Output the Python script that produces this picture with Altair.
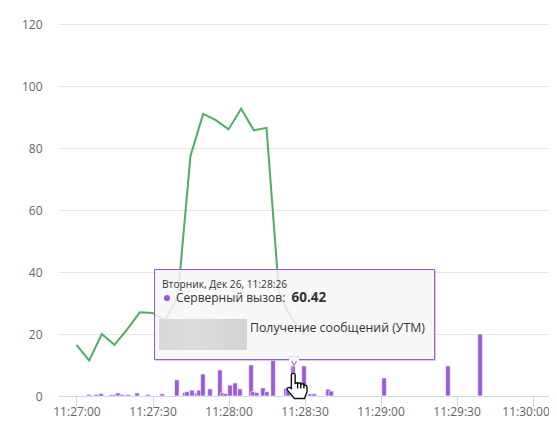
import altair as alt
import pandas as pd

START = pd.Timestamp("2023-12-26T11:27:00")
line_seconds = [0, 5, 10, 15, 20, 25, 30, 35, 40, 45, 50, 55, 60, 65, 70, 75, 80, 85, 90]
line_values = [16.5, 11.5, 20, 16.5, 21.5, 27, 26.8, 24.5, 32, 77.5, 91, 89, 86, 92.7, 85.7, 86.5, 32.5, 25, 19.7]
bar_seconds = [4.9, 7.7, 9.7, 14, 15.2, 16.4, 18, 20.3, 23.9, 28.2, 33.8, 39.6, 42.8, 43.6, 45.6, 47.6, 48.4,
               49.9, 52.7, 56.6, 57.7, 59, 60.6, 62.6, 64.5, 68.9, 69.7, 71.1, 73.6, 75.1, 77.6, 82.7, 83.5,
               89.8, 92.2, 93.8, 99.3, 100.5, 121.4, 146.6, 159.3]
bar_values = [0.5, 0.5, 0.8, 0.5, 0.5, 1, 0.5, 0.5, 1, 0.5, 0.7, 5.2, 1.1, 1.4, 1.9, 1, 1.9,
              7.1, 2.3, 8.4, 1, 0.8, 3.5, 4.2, 2.3, 10, 1.4, 1.1, 2.6, 1.4, 11.4, 2.5, 2.5,
              9.7, 0.7, 0.7, 2.2, 1.6, 5.8, 9.7, 20]
hover_seconds = [85.5]
hover_values = [9.7]
tick_minutes = [(27, 0), (27, 30), (28, 0), (28, 30), (29, 0), (29, 30), (30, 0)]

tip_date = "Вторник, Дек 26, 11:28:26"
tip_series = "Серверный вызов: "
tip_value = "60.42"
tip_note = "Получение сообщений (УТМ)"

FONT = "Open Sans"
PURPLE = "#9b59dc"
L, T = 58, 24


def frame(secs, vals):
    return pd.DataFrame({"t": [START + pd.Timedelta(seconds=s) for s in secs], "v": vals})


def dt(m, s, ms=0):
    return alt.DateTime(year=2023, month=12, date=26, hours=11, minutes=m, seconds=s, milliseconds=ms)


x = alt.X("t:T", title=None,
          scale=alt.Scale(domain=[dt(26, 52, 700), dt(30, 6, 500)], nice=False, padding=0),
          axis=alt.Axis(format="%H:%M:%S", values=[dt(m, s) for m, s in tick_minutes], grid=False,
                        domainColor="#ccd6eb", tickColor="#ccd6eb", tickSize=10, labelPadding=0,
                        labelColor="#666666", labelFont=FONT, labelFontSize=12, labelFlush=False,
                        labelOverlap=False,
                        labelOffset={"condition": {"test": "minutes(datum.value) == 30 && seconds(datum.value) == 0",
                                                   "value": -7}, "value": 0}))
y = alt.Y("v:Q", title=None, scale=alt.Scale(domain=[0, 120], nice=False),
          axis=alt.Axis(values=[0, 20, 40, 60, 80, 100, 120], grid=True, gridColor="#e6e6e6", domain=False,
                        ticks=False, labelPadding=16, labelColor="#666666", labelFont=FONT, labelFontSize=12))

bars = alt.Chart(frame(bar_seconds, bar_values)).mark_bar(size=4.6, color=PURPLE, stroke="white", strokeWidth=0.6).encode(x=x, y=y)
hover = alt.Chart(frame(hover_seconds, hover_values)).mark_bar(size=4.6, color="#a870e2", stroke="white", strokeWidth=0.6).encode(x=x, y=y)
line = alt.Chart(frame(line_seconds, line_values)).mark_line(color="#4caf62", strokeWidth=2).encode(x=x, y=y)

ONE = pd.DataFrame({"a": [0]})


def box(x0, y0, x1, y1, **kw):
    return alt.Chart(ONE).mark_rect(**kw).encode(
        x=alt.value(x0 - L), x2=alt.value(x1 - L), y=alt.value(y0 - T), y2=alt.value(y1 - T))


def label(px, py, s, **kw):
    return alt.Chart(ONE).mark_text(align="left", baseline="middle", font=FONT, color="#333333", text=s, **kw).encode(
        x=alt.value(px - L), y=alt.value(py - T))


def symbol(px, py, **kw):
    return alt.Chart(ONE).mark_point(**kw).encode(x=alt.value(px - L), y=alt.value(py - T))


HAND = ("M -0.45 -0.9 C -0.45 -1.05 -0.15 -1.05 -0.15 -0.9 L -0.15 -0.2 L 0.05 -0.28 L 0.1 -0.2 L 0.3 -0.25 "
        "L 0.35 -0.15 L 0.55 -0.18 L 0.6 -0.05 L 0.75 -0.05 L 0.8 0.1 L 0.8 0.45 L 0.6 1 L -0.2 1 L -0.75 0.35 "
        "C -0.9 0.15 -0.65 0.05 -0.45 0.2 Z "
        "M 0.05 -0.25 L 0.05 0.2 M 0.3 -0.2 L 0.3 0.2 M 0.55 -0.15 L 0.55 0.2")

tip_fill = "#f7f7f7"
blur_fill = alt.LinearGradient(gradient="linear", x1=0, y1=0, x2=1, y2=0,
                               stops=[alt.GradientStop(offset=0, color="#d8d8d8"),
                                      alt.GradientStop(offset=0.45, color="#dcdcda"),
                                      alt.GradientStop(offset=1, color="#d2d4d2")])
layers = [
    bars, hover, line,
    box(155.5, 270.5, 435.5, 360.5, fillOpacity=0, stroke="#000000", strokeOpacity=0.18, strokeWidth=1),
    symbol(294, 361, shape="triangle-down", size=110, fill=tip_fill, stroke=PURPLE, strokeWidth=1, opacity=1),
    box(154.5, 269.5, 434.5, 359.5, fill=tip_fill, fillOpacity=0.85, stroke=PURPLE, strokeWidth=1),
    box(289, 358.5, 299, 361, fill=tip_fill),
    box(159, 319, 247, 350, fill=blur_fill),
    label(162, 284.5, tip_date, fontSize=10.2),
    symbol(167, 298, shape="circle", size=38, fill=PURPLE, stroke=PURPLE, strokeWidth=0, opacity=1),
    label(176, 298, tip_series, fontSize=12),
    label(291.5, 298, tip_value, fontSize=13.5, fontWeight="bold"),
    label(250, 328, tip_note, fontSize=12.3),
    symbol(297, 386, shape=HAND, size=625, fill="white", stroke="#111111", strokeWidth=1.4, opacity=1),
]

chart = alt.layer(*layers).properties(
    width=491, height=372,
    autosize=alt.AutoSizeParams(type="none"),
    padding={"left": 50, "top": 16, "right": 0, "bottom": 24},
).configure_view(stroke=None)

chart.save("out.html", embed_options={"renderer": "svg", "actions": False})
